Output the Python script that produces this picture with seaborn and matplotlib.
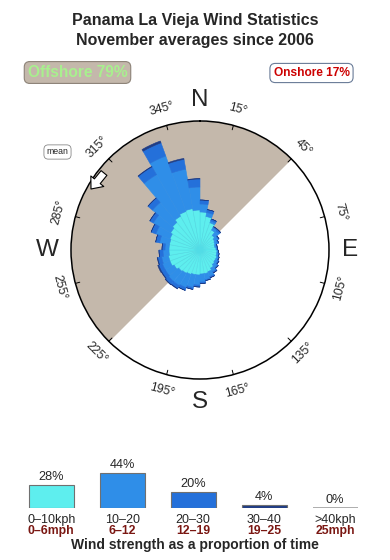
import numpy as np
import matplotlib
matplotlib.use("Agg")
import matplotlib.pyplot as plt
import seaborn as sns
import pandas as pd

# ---------------- data ----------------
directions = list(range(5, 360, 10))  # sector centres (deg)
speed_0_10 = [3.8, 3.4, 2.9, 2.3, 1.9, 1.7, 1.6, 1.5, 1.6, 1.7, 1.7, 1.8, 1.8, 1.9, 2.1, 2.3, 2.4, 2.4,
              2.5, 2.5, 2.6, 2.7, 2.8, 3.0, 3.2, 3.2, 3.1, 3.1, 3.1, 3.2, 3.4, 3.6, 3.9, 4.1, 4.2, 4.0]
speed_10_20 = [0.8, 0.4, 0.2, 0.3, 0.6, 0.4, 0.3, 0.2, 0.1, 0.1, 0.2, 0.2, 0.3, 0.4, 0.4, 0.5, 0.6, 0.8,
               1.0, 1.3, 1.4, 1.4, 1.3, 1.0, 0.8, 0.7, 0.6, 0.4, 1.0, 1.5, 2.0, 2.6, 4.8, 5.9, 4.0, 2.3]
speed_20_30 = [0.4, 0.3, 0.2, 0.1, 0.2, 0.1, 0.1, 0.05, 0.05, 0.05, 0.05, 0.05, 0.1, 0.1, 0.15, 0.15, 0.1, 0.15,
               0.2, 0.2, 0.3, 0.35, 0.4, 0.4, 0.4, 0.4, 0.4, 0.3, 0.4, 0.5, 0.4, 0.6, 0.9, 1.4, 1.0, 0.8]
speed_30_40 = [0, 0, 0, 0, 0, 0, 0, 0, 0, 0, 0, 0, 0, 0, 0, 0, 0, 0,
               0, 0, 0, 0.05, 0.05, 0.05, 0.1, 0.05, 0, 0, 0, 0, 0, 0, 0.05, 0.2, 0.1, 0.05]

legend_kph = ["0\u201310kph", "10\u201320", "20\u201330", "30\u201340", ">40kph"]
legend_mph = ["0\u20136mph", "6\u201312", "12\u201319", "19\u201325", "25mph"]
legend_pct = [28, 44, 20, 4, 0]

compass_labels = [15, 45, 75, 105, 135, 165, 195, 225, 255, 285, 315, 345]
offshore_from, offshore_to = 225, 405

title1 = "Panama La Vieja Wind Statistics"
title2 = "November averages since 2006"
offshore_txt = "Offshore 79%"
onshore_txt = "Onshore 17%"
caption = "Wind strength as a proportion of time"

# ---------------- style ----------------
sns.set_style("white")
plt.rcParams['font.family'] = ['Liberation Sans', 'DejaVu Sans']

c_cyan = "#5EEEEE"
c_mid = "#2F8EE8"
c_dark = "#2470DA"
c_navy = "#1E3C86"
c_grey = "#A0A0A0"
c_tan = "#C4B8AB"

W, H = 390, 560
fig = plt.figure(figsize=(W / 100, H / 100), dpi=100)
fig.patch.set_facecolor("white")

def fx(px):
    return px / W

def fy(py):
    return 1 - py / H

# ---------------- titles ----------------
fig.text(0.5, fy(25.3), title1, ha="center", va="baseline", fontsize=11.5, fontweight="bold")
fig.text(0.5, fy(45.3), title2, ha="center", va="baseline", fontsize=11.5, fontweight="bold")

fig.text(fx(77.5), fy(72.5), offshore_txt, ha="center", va="center", fontsize=11.2,
         fontweight="bold", color="#A8F08E",
         bbox=dict(boxstyle="round,pad=0.22,rounding_size=0.35", fc=c_tan, ec="#8C8277", lw=0.8))
fig.text(fx(311.5), fy(73), onshore_txt, ha="center", va="center", fontsize=8.6,
         fontweight="bold", color="#CC0000",
         bbox=dict(boxstyle="round,pad=0.3,rounding_size=0.45", fc="white", ec="#6A7C98", lw=0.8))
fig.text(fx(57.5), fy(152), "mean", ha="center", va="center", fontsize=6.3,
         bbox=dict(boxstyle="round,pad=0.3,rounding_size=0.5", fc="white", ec="#888888", lw=0.6))

# ---------------- wind rose ----------------
cx, cy, Rpx = 200, 250, 129
R = 12.9
ax = fig.add_axes([fx(cx - Rpx), fy(cy + Rpx), 2 * Rpx / W, 2 * Rpx / H], projection="polar")
ax.set_theta_zero_location("N")
ax.set_theta_direction(-1)
ax.set_ylim(0, R)
ax.set_xticks([])
ax.set_yticks([])
ax.grid(False)
ax.set_facecolor("white")
ax.spines["polar"].set_linewidth(1.1)
ax.spines["polar"].set_color("black")

th_fill = np.radians(np.linspace(offshore_from, offshore_to, 300))
ax.fill_between(th_fill, 0, R, color=c_tan, lw=0, zorder=0)

theta = np.radians(directions)
width = np.radians(10)
bottom = np.zeros(len(directions))
layers = [(speed_0_10, c_cyan, "#52DCE6"), (speed_10_20, c_mid, c_mid),
          (speed_20_30, c_dark, c_dark), (speed_30_40, c_navy, c_navy)]
for vals, col, ecol in layers:
    v = np.array(vals)
    ax.bar(theta, v, width=width, bottom=bottom, color=col, edgecolor=ecol, linewidth=0.4, zorder=2)
    bottom = bottom + v

for d in compass_labels:
    t = np.radians(d)
    ax.plot([t, t], [R * 0.965, R], color="black", lw=0.7, zorder=3, clip_on=False)
    rot = 180 - d if 90 < d < 270 else -d
    ax.text(t, R * 1.13, f"{d}\u00b0", ha="center", va="center", rotation=rot,
            rotation_mode="anchor", fontsize=8.8, clip_on=False)

for lab, d, rr in [("N", 0, 1.165), ("E", 90, 1.165), ("S", 180, 1.18), ("W", 270, 1.18)]:
    ax.text(np.radians(d), R * rr, lab, ha="center", va="center", fontsize=17.5, clip_on=False)

ax.annotate("", xy=(91, H - 189), xytext=(104, H - 173), xycoords="figure pixels",
            textcoords="figure pixels",
            arrowprops=dict(arrowstyle="simple,head_length=0.6,head_width=1.0,tail_width=0.45",
                            fc="white", ec="black", lw=0.8, mutation_scale=12, shrinkA=0, shrinkB=0))

# ---------------- speed legend ----------------
df = pd.DataFrame({"cls": legend_kph, "pct": legend_pct})
lax = fig.add_axes([fx(15.7), fy(507.7), 355 / W, 47.7 / H])
sns.barplot(data=df, x="cls", y="pct", hue="cls", palette=[c_cyan, c_mid, c_dark, c_navy, c_grey],
            legend=False, width=0.634, edgecolor="#707070", linewidth=0.8, saturation=1, ax=lax)
lax.set_xlim(-0.5, 4.5)
lax.set_ylim(0, 60)
lax.axis("off")
for i, (p, k, m) in enumerate(zip(legend_pct, legend_kph, legend_mph)):
    lax.annotate(f"{p}%", xy=(i, p), xytext=(0, 5), textcoords="offset pixels",
                 ha="center", va="baseline", fontsize=9.2, annotation_clip=False)
    lax.annotate(k, xy=(i, 0), xytext=(0, -15), textcoords="offset pixels",
                 ha="center", va="baseline", fontsize=9, annotation_clip=False)
    lax.annotate(m, xy=(i, 0), xytext=(0, -26.5), textcoords="offset pixels",
                 ha="center", va="baseline", fontsize=8.8, fontweight="bold",
                 color="#7A1712", annotation_clip=False)
lax.patches[-1].set_edgecolor(c_grey)
lax.patches[-1].set_linewidth(1.2)

fig.text(0.5, fy(549), caption, ha="center", va="baseline", fontsize=10, fontweight="bold")

fig.savefig("out.png", dpi=100, facecolor="white")
